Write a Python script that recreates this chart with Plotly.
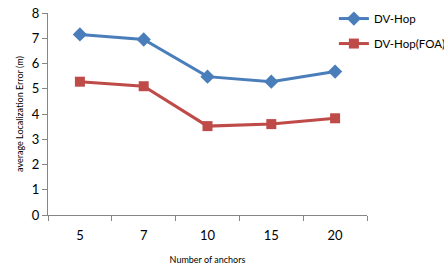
import plotly.graph_objects as go

categories = ["5", "7", "10", "15", "20"]
dv_hop = [7.15, 6.95, 5.48, 5.28, 5.68]
dv_hop_foa = [5.28, 5.10, 3.52, 3.60, 3.83]
y_ticks = [0, 1, 2, 3, 4, 5, 6, 7, 8]

fig = go.Figure()
fig.add_trace(go.Scatter(x=categories, y=dv_hop, name="DV-Hop", mode="lines+markers",
                         legendgroup="a",
                         line=dict(color="#4A7EBB", width=3),
                         marker=dict(symbol="diamond", size=11, color="#4A7EBB")))
fig.add_trace(go.Scatter(x=categories, y=dv_hop_foa, name="DV-Hop(FOA)", mode="lines+markers",
                         legendgroup="b",
                         line=dict(color="#BE4B48", width=3),
                         marker=dict(symbol="square", size=10, color="#BE4B48")))

fig.update_layout(
    width=444, height=270,
    margin=dict(l=48, r=77, t=13, b=55, autoexpand=False),
    paper_bgcolor="white", plot_bgcolor="white",
    font=dict(family="Lato, Open Sans, sans-serif", color="#000"),
    showlegend=True,
    legend=dict(xref="container", yref="container", x=0.752, y=0.985,
                xanchor="left", yanchor="top",
                font=dict(size=11.5), bgcolor="rgba(0,0,0,0)", tracegroupgap=6,
                itemwidth=30),
    xaxis=dict(type="category", range=[-0.5, 4.5], tickson="boundaries",
               ticks="outside", ticklen=5, tickcolor="#868686",
               showline=True, linecolor="#868686", linewidth=1,
               showgrid=False, zeroline=False, automargin=False,
               tickfont=dict(size=13), ticklabelstandoff=8,
               title=dict(text="Number of anchors", font=dict(size=9), standoff=15)),
    yaxis=dict(range=[0, 8], tickvals=y_ticks,
               ticks="outside", ticklen=5, tickcolor="#868686",
               showline=True, linecolor="#868686", linewidth=1,
               showgrid=False, zeroline=False, automargin=False,
               tickfont=dict(size=13),
               title=dict(text="average Localization Error (m)", font=dict(size=9), standoff=6)),
)

fig.write_html("out.html", config={"displayModeBar": False},
               post_script="document.body.style.margin='0';")
